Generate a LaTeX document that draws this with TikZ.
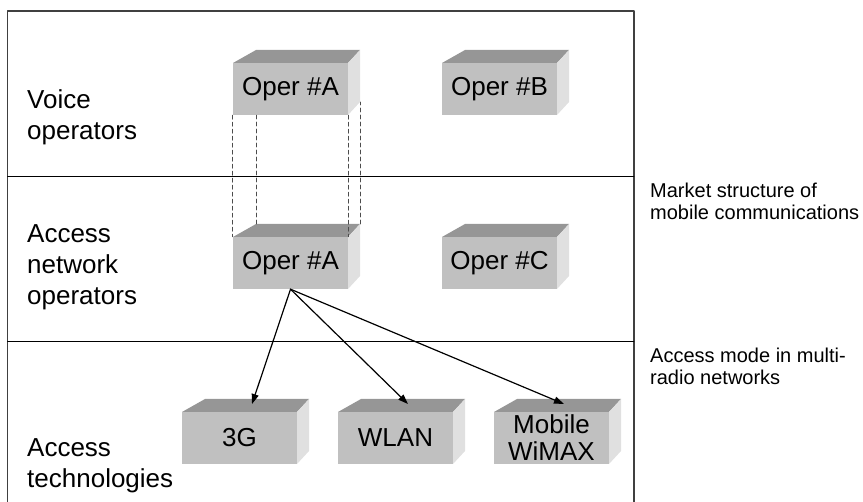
\documentclass[tikz,border=0pt]{standalone}
\usepackage{fontspec}
\setmainfont{Liberation Sans}
\usetikzlibrary{arrows.meta,positioning}

\definecolor{frontgray}{HTML}{C0C0C0}
\definecolor{topgray}{HTML}{969696}
\definecolor{sidegray}{HTML}{E0E0E0}
\definecolor{framegray}{HTML}{404040}

\tikzset{
  boxtext/.style={inner sep=0pt, minimum width=115pt, minimum height=52pt, align=center, font=\fontsize{26}{27}\selectfont},
  lefttext/.style={anchor=base west, align=left, inner sep=0pt, font=\fontsize{26}{31}\selectfont},
  righttext/.style={anchor=base west, align=left, inner sep=0pt, font=\fontsize{20}{22}\selectfont},
  link/.style={line width=1.2pt, -{Triangle[length=10pt,width=7pt]}},
  tie/.style={dash pattern=on 4pt off 3pt, line width=0.8pt, black!70},
}

% 3D block: name, front left x, front top y, text
\newcommand{\cuboid}[4]{%
  \fill[topgray] (#2,#3) -- ({#2+23},{#3-13}) -- ({#2+127},{#3-13}) -- ({#2+115},#3) -- cycle;
  \fill[sidegray] ({#2+115},#3) -- ({#2+127},{#3-13}) -- ({#2+127},{#3+39}) -- ({#2+115},{#3+52}) -- cycle;
  \fill[frontgray] (#2,#3) rectangle ({#2+115},{#3+52});
  \coordinate (#1-bl) at ({#2+23},{#3-13});
  \coordinate (#1-br) at ({#2+127},{#3-13});
  \coordinate (#1-sb) at ({#2+127},{#3+39});
  \coordinate (#1-top) at ({#2+70},{#3-8});
  \node[boxtext] (#1) at ({#2+57.5},{#3+26}) {#4};
}

\begin{document}
\begin{tikzpicture}[x=1pt,y=-1pt,line cap=round,line join=round]
\useasboundingbox (0,0) rectangle (863,502);

% frame and layers
\draw[framegray,line width=1.5pt] (7.5,502) -- (7.5,11) -- (634,11) -- (634,502);
\draw[line width=0.8pt] (7.5,176) -- (634,176);
\draw[line width=0.8pt] (7.5,341) -- (634,341);

% layer names (base = last line)
\node[lefttext] (voice) at (27,140) {Voice\\operators};
\node[lefttext] (access) at (27,305) {Access\\network\\operators};
\node[lefttext] (techs) at (27,488) {Access\\technologies};

% blocks
\cuboid{volA}{233}{63}{Oper \#A}
\cuboid{volB}{442}{63}{Oper \#B}
\cuboid{accA}{233}{237}{Oper \#A}
\cuboid{accC}{442}{237}{Oper \#C}
\cuboid{tech3g}{182}{412}{3G}
\cuboid{wlan}{338}{412}{WLAN}
\cuboid{wimax}{494}{412}{Mobile\\WiMAX}

% same operator in both layers
\draw[tie] (volA.south west) -- (accA.north west);
\draw[tie] (volA.south east) -- (accA.north east);
\draw[tie] (accA-bl) -- (accA-bl |- volA.south);
\draw[tie] (accA-br) -- (volA-sb);

% access modes
\draw[link] (accA.south) -- (tech3g-top);
\draw[link] (accA.south) -- (wlan-top);
\draw[link] (accA.south) -- (wimax-top);

% side notes
\node[righttext] (market) at (650,220) {Market structure of\\mobile communications};
\node[righttext] (mode) at (650,385) {Access mode in multi-\\radio networks};
\end{tikzpicture}
\end{document}
